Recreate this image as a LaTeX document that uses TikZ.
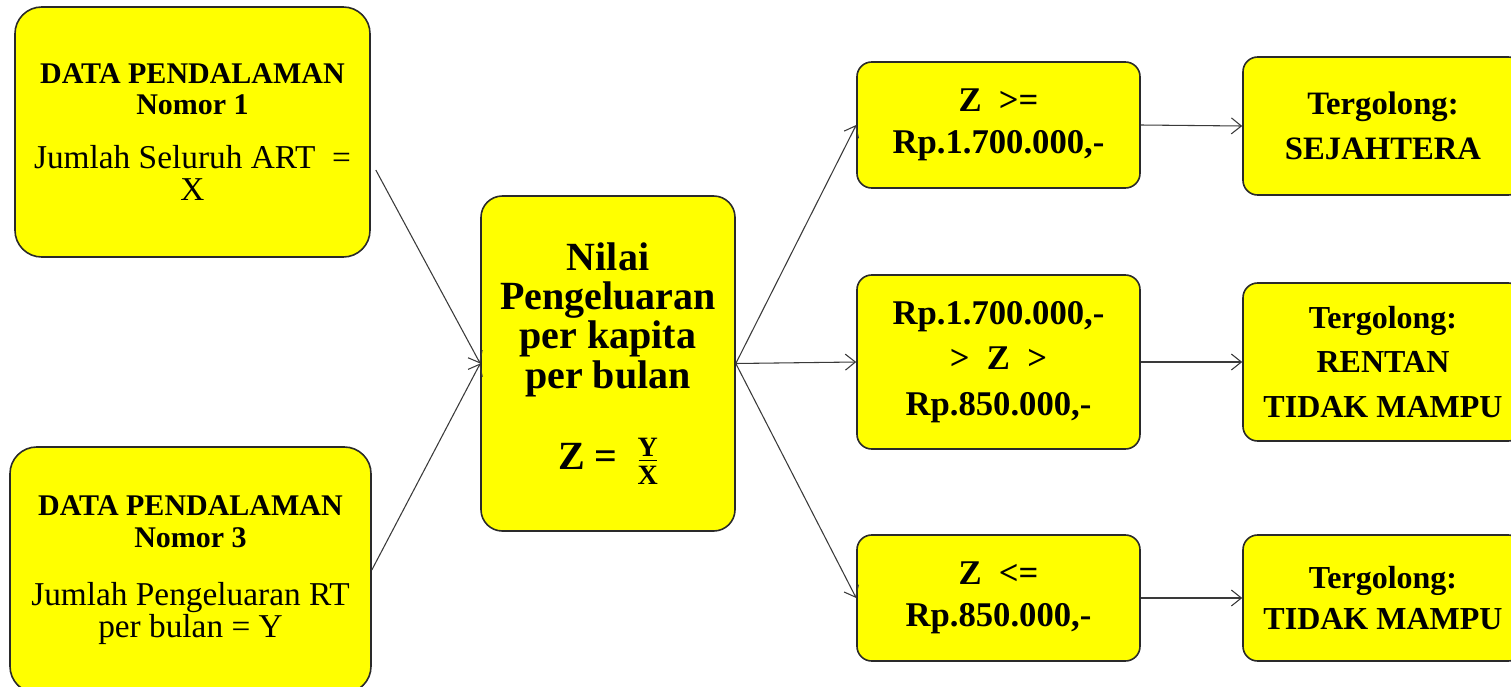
\documentclass[tikz,border=0pt]{standalone}
\usepackage{fontspec}
\setmainfont{Liberation Serif}
\usetikzlibrary{arrows.meta}
\newcommand\dpHead{\fontsize{22.5pt}{23.5pt}\selectfont\bfseries}
\newcommand\dpBody{\fontsize{25pt}{24pt}\selectfont\mdseries}
\newcommand\dpFrac{\raisebox{-11.3pt}{\vbox{\fontsize{21pt}{21pt}\selectfont\bfseries\baselineskip=0pt\lineskip=0pt\lineskiplimit=0pt
  \halign{\hfil##\hfil\cr Y\cr\noalign{\kern2.5pt}\rule{13.5pt}{1.2pt}\cr\noalign{\kern3.5pt}X\cr}}}}
\definecolor{boxyellow}{HTML}{FFFF00}
\definecolor{edgegray}{HTML}{2A2A2A}
\definecolor{arrowgray}{HTML}{3A3A3A}
\begin{document}
\begin{tikzpicture}[x=0.75pt,y=-0.75pt,
  ybox/.style={draw=edgegray, line width=1.2pt, fill=boxyellow, inner sep=0pt, align=center},
  bigbox/.style={ybox, rounded corners=20pt},
  midbox/.style={ybox, rounded corners=16pt},
  smallbox/.style={ybox, rounded corners=11pt},
  conn/.style={draw=arrowgray, line width=0.8pt, -{Straight Barb[length=7.5pt,width=12pt,line width=0.8pt]}}
]
\useasboundingbox (0,0) rectangle (1511,686);

% left boxes
\node[bigbox, minimum width=266.25pt, minimum height=187.5pt, font=\fontsize{22.5pt}{23.5pt}\selectfont] (b1) at (192.5,132)
  {\dpHead DATA PENDALAMAN\\ \dpHead Nomor 1\\[17pt] \dpBody Jumlah Seluruh ART~~=\\ \dpBody X};
\node[bigbox, minimum width=270.75pt, minimum height=184.5pt, font=\fontsize{22.5pt}{24pt}\selectfont] (b3) at (190.5,570)
  {\dpHead DATA PENDALAMAN\\ \dpHead Nomor 3\\[20pt] \dpBody Jumlah Pengeluaran RT\\ \dpBody per bulan = Y};

% center box
\node[midbox, minimum width=190.5pt, minimum height=251.25pt, font=\fontsize{30pt}{29.5pt}\selectfont\bfseries] (c) at (608,363.5)
  {Nilai\\Pengeluaran\\per kapita\\per bulan\\[30pt] Z =~~\dpFrac};

% condition boxes
\node[smallbox, minimum width=212.25pt, minimum height=94.5pt, font=\fontsize{26pt}{31.5pt}\selectfont\bfseries] (r1) at (998.5,125)
  {Z~~>=\\Rp.1.700.000,-};
\node[smallbox, minimum width=212.25pt, minimum height=130.5pt, font=\fontsize{26pt}{34pt}\selectfont\bfseries] (r2) at (998.5,362)
  {Rp.1.700.000,-\\>~~Z~~>\\Rp.850.000,-};
\node[smallbox, minimum width=212.25pt, minimum height=94.5pt, font=\fontsize{26pt}{31.5pt}\selectfont\bfseries] (r3) at (998.5,598)
  {Z~~<=\\Rp.850.000,-};

% result boxes
\node[smallbox, minimum width=210pt, minimum height=103.5pt, font=\fontsize{24.5pt}{33.5pt}\selectfont\bfseries] (f1) at (1383,126)
  {Tergolong:\\SEJAHTERA};
\node[smallbox, minimum width=210pt, minimum height=118.5pt, font=\fontsize{24pt}{33.5pt}\selectfont\bfseries] (f2) at (1383,362)
  {Tergolong:\\RENTAN\\TIDAK MAMPU};
\node[smallbox, minimum width=210pt, minimum height=94.5pt, font=\fontsize{24pt}{31pt}\selectfont\bfseries] (f3) at (1383,598)
  {Tergolong:\\TIDAK MAMPU};

% connectors
\draw[conn] ([xshift=3.75pt,yshift=-28.5pt]b1.east) -- (c.west);
\draw[conn] (b3.east) -- (c.west);
\draw[conn] (c.east) -- (r1.west);
\draw[conn] (c.east) -- (r2.west);
\draw[conn] (c.east) -- (r3.west);
\draw[conn] (r1.east) -- (f1.west);
\draw[conn] (r2.east) -- (f2.west);
\draw[conn] (r3.east) -- (f3.west);
\end{tikzpicture}
\end{document}
